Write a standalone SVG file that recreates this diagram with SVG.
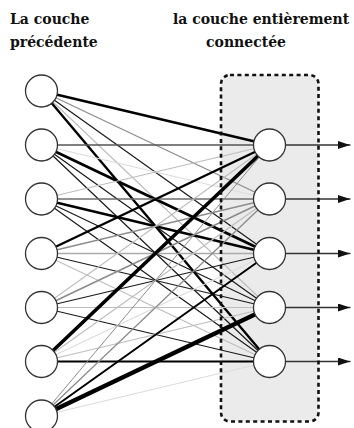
<svg xmlns="http://www.w3.org/2000/svg" width="354" height="428" viewBox="0 0 354 428">
  <style>
    .title { font-family: "DejaVu Serif", "Liberation Serif", serif; font-weight: bold; font-size: 14px; fill: #111; }
    .node { fill: #fff; stroke: #333; stroke-width: 1.3; }
    .w line { stroke-linecap: round; }
    .K  { stroke: #000; stroke-width: 2.4; }
    .KK { stroke: #000; stroke-width: 3.6; }
    .k  { stroke: #1a1a1a; stroke-width: 1.2; }
    .dg { stroke: #555; stroke-width: 1.5; }
    .g  { stroke: #8c8c8c; stroke-width: 1.3; }
    .lg { stroke: #bdbdbd; stroke-width: 1.1; }
    .vlg { stroke: #dcdcdc; stroke-width: 1.1; }
    .out { stroke: #333; stroke-width: 1.3; }
  </style>
  <defs>
    <marker id="arrow" viewBox="0 0 12 8" refX="12" refY="4" markerWidth="12" markerHeight="8" markerUnits="userSpaceOnUse" orient="auto">
      <path d="M0,0 L12,4 L0,8 z" fill="#111"/>
    </marker>
  </defs>

  <!-- headings -->
  <text class="title" x="10" y="24">La couche</text>
  <text class="title" x="10" y="47">précédente</text>
  <text class="title" x="261" y="24" text-anchor="middle">la couche entièrement</text>
  <text class="title" x="246" y="47" text-anchor="middle">connectée</text>

  <!-- fully connected layer background -->
  <rect id="layer-bg" x="221" y="75" width="97.5" height="346.5" rx="9" fill="#ebebeb"/>

  <!-- weighted connections, previous layer -> fully connected layer -->
  <g id="connectors" class="w">
    <!-- from L1 (y=91) -->
    <line class="K"   x1="41.5" y1="91" x2="269.5" y2="145"/>
    <line class="g"   x1="41.5" y1="91" x2="269.5" y2="199"/>
    <line class="k"   x1="41.5" y1="91" x2="269.5" y2="253.5"/>
    <line class="lg"  x1="41.5" y1="91" x2="269.5" y2="307.5"/>
    <line class="K"   x1="41.5" y1="91" x2="269.5" y2="361.5"/>
    <!-- from L2 (y=145) -->
    <line class="dg"  x1="41.5" y1="145" x2="269.5" y2="145"/>
    <line class="vlg" x1="41.5" y1="145" x2="269.5" y2="199"/>
    <line class="K"   x1="41.5" y1="145" x2="269.5" y2="253.5" style="stroke-width:2.8"/>
    <line class="k"   x1="41.5" y1="145" x2="269.5" y2="307.5"/>
    <line class="k"   x1="41.5" y1="145" x2="269.5" y2="361.5"/>
    <!-- from L3 (y=199) -->
    <line class="lg"  x1="41.5" y1="199" x2="269.5" y2="145"/>
    <line class="dg"  x1="41.5" y1="199" x2="269.5" y2="199" style="stroke:#6e6e6e"/>
    <line class="K"   x1="41.5" y1="199" x2="269.5" y2="253.5"/>
    <line class="k"   x1="41.5" y1="199" x2="269.5" y2="307.5"/>
    <line class="k"   x1="41.5" y1="199" x2="269.5" y2="361.5"/>
    <!-- from L4 (y=253.5) -->
    <line class="K"   x1="41.5" y1="253.5" x2="269.5" y2="145"/>
    <line class="g"   x1="41.5" y1="253.5" x2="269.5" y2="199"/>
    <line class="g"   x1="41.5" y1="253.5" x2="269.5" y2="253.5" style="stroke:#aaa"/>
    <line class="k"   x1="41.5" y1="253.5" x2="269.5" y2="307.5"/>
    <line class="lg"  x1="41.5" y1="253.5" x2="269.5" y2="361.5"/>
    <!-- from L5 (y=307.5) -->
    <line class="lg"  x1="41.5" y1="307.5" x2="269.5" y2="145"/>
    <line class="g"   x1="41.5" y1="307.5" x2="269.5" y2="199" style="stroke-width:1.6"/>
    <line class="k"   x1="41.5" y1="307.5" x2="269.5" y2="253.5"/>
    <line class="lg"  x1="41.5" y1="307.5" x2="269.5" y2="307.5"/>
    <line class="k"   x1="41.5" y1="307.5" x2="269.5" y2="361.5"/>
    <!-- from L6 (y=361.5) -->
    <line class="KK"  x1="41.5" y1="361.5" x2="269.5" y2="145"/>
    <line class="lg"  x1="41.5" y1="361.5" x2="269.5" y2="199"/>
    <line class="vlg" x1="41.5" y1="361.5" x2="269.5" y2="253.5"/>
    <line class="lg"  x1="41.5" y1="361.5" x2="269.5" y2="307.5"/>
    <line class="K"   x1="41.5" y1="361.5" x2="269.5" y2="361.5" style="stroke-width:2"/>
    <!-- from L7 (y=416) -->
    <line class="g"   x1="41.5" y1="416" x2="269.5" y2="145" style="stroke-width:1"/>
    <line class="g"   x1="41.5" y1="416" x2="269.5" y2="199"/>
    <line class="K"   x1="41.5" y1="416" x2="269.5" y2="253.5" style="stroke-width:2"/>
    <line class="KK"  x1="41.5" y1="416" x2="269.5" y2="307.5" style="stroke-width:4.2"/>
    <line class="vlg" x1="41.5" y1="416" x2="269.5" y2="361.5"/>
    <!-- outputs -->
    <line class="out" x1="285.5" y1="145" x2="350" y2="145" marker-end="url(#arrow)"/>
    <line class="out" x1="285.5" y1="199" x2="350" y2="199" marker-end="url(#arrow)"/>
    <line class="out" x1="285.5" y1="253.5" x2="350" y2="253.5" marker-end="url(#arrow)"/>
    <line class="out" x1="285.5" y1="307.5" x2="350" y2="307.5" marker-end="url(#arrow)"/>
    <line class="out" x1="285.5" y1="361.5" x2="350" y2="361.5" marker-end="url(#arrow)"/>
  </g>

  <!-- dashed outline of the fully connected layer -->
  <rect id="layer-outline" x="221" y="75" width="97.5" height="346.5" rx="9" fill="none" stroke="#111" stroke-width="2.6" stroke-dasharray="4 3.4"/>

  <!-- previous layer -->
  <g id="prev-1"><circle class="node" cx="41.5" cy="91" r="16"/></g>
  <g id="prev-2"><circle class="node" cx="41.5" cy="145" r="16"/></g>
  <g id="prev-3"><circle class="node" cx="41.5" cy="199" r="16"/></g>
  <g id="prev-4"><circle class="node" cx="41.5" cy="253.5" r="16"/></g>
  <g id="prev-5"><circle class="node" cx="41.5" cy="307.5" r="16"/></g>
  <g id="prev-6"><circle class="node" cx="41.5" cy="361.5" r="16"/></g>
  <g id="prev-7"><circle class="node" cx="41.5" cy="416" r="16"/></g>

  <!-- fully connected layer -->
  <g id="fc-1"><circle class="node" cx="269.5" cy="145" r="16"/></g>
  <g id="fc-2"><circle class="node" cx="269.5" cy="199" r="16"/></g>
  <g id="fc-3"><circle class="node" cx="269.5" cy="253.5" r="16"/></g>
  <g id="fc-4"><circle class="node" cx="269.5" cy="307.5" r="16"/></g>
  <g id="fc-5"><circle class="node" cx="269.5" cy="361.5" r="16"/></g>
</svg>
